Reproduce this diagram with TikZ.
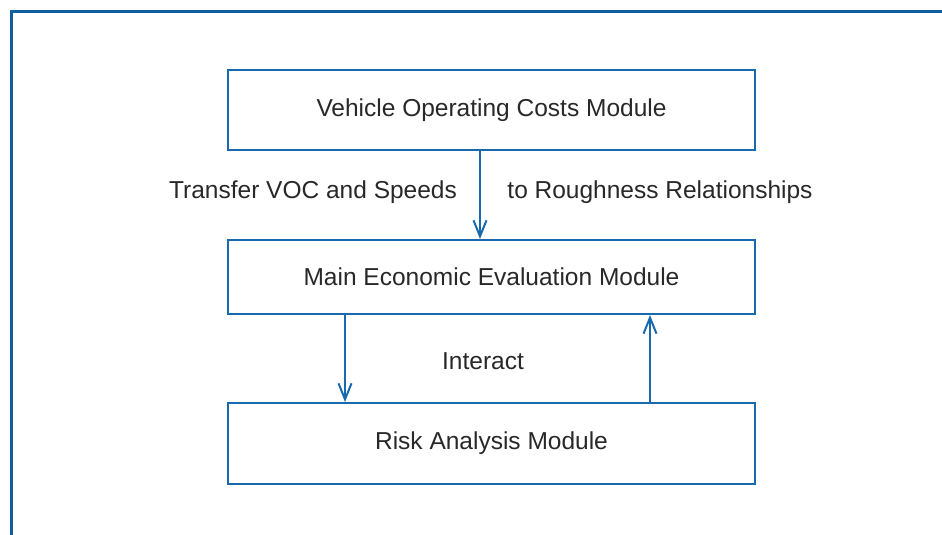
\documentclass[tikz,border=0pt]{standalone}
\usepackage{fontspec}
\setmainfont{Liberation Sans}
\usetikzlibrary{arrows.meta}

\definecolor{boxblue}{RGB}{25,105,175}
\definecolor{frameblue}{RGB}{15,95,160}
\definecolor{txtgray}{RGB}{40,40,40}

\tikzset{
  modbox/.style={draw=boxblue,line width=2pt,minimum width=527pt,
    inner sep=0pt,text=txtgray,font=\fontsize{24.5}{28}\selectfont},
  flow/.style={draw=boxblue,line width=2pt,
    -{Straight Barb[length=16pt,width=13pt,line width=2pt]}},
  lbl/.style={text=txtgray,font=\fontsize{24.5}{28}\selectfont}
}

\begin{document}
\begin{tikzpicture}[x=1pt,y=-1pt]
\useasboundingbox (0,0) rectangle (942,535);

% Rahmen (nur oben und links)
\draw[frameblue,line width=3pt] (11,536) -- (11,12) -- (943,12);

%=== Module ===
\node[modbox,minimum height=80pt] (voc)  at (491.5,110)   {Vehicle Operating Costs Module};
\node[modbox,minimum height=74pt] (main) at (491.5,277)   {Main Economic Evaluation Module};
\node[modbox,minimum height=81pt] (risk) at (491.5,443.5) {Risk Analysis Module};

% x-Lagen der Pfeile
\coordinate (xa) at (480,0);
\coordinate (xb) at (345,0);
\coordinate (xc) at (650,0);

%=== Pfeile ===
\draw[flow] (voc.south -| xa) -- (main.north -| xa);
\draw[flow] (main.south -| xb) -- (risk.north -| xb);
\draw[flow] (risk.north -| xc) -- (main.south -| xc);

% Beschriftungen
\node[lbl] (tvoc)  at (313,192) {Transfer VOC and Speeds};
\node[lbl] (trgh)  at (660,192) {to Roughness Relationships};
\node[lbl] (inter) at (483,361) {Interact};

\end{tikzpicture}
\end{document}
